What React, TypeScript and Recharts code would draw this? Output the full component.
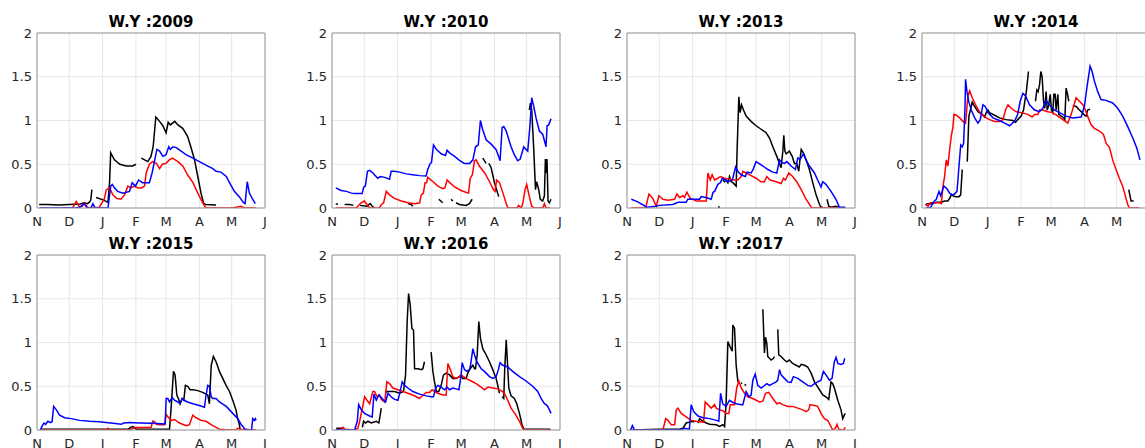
import React from "react";
import {
  CartesianGrid,
  Line,
  LineChart,
  ReferenceLine,
  XAxis,
  YAxis,
} from "recharts";

type Pt = [number, number | null];

// x = days since 1 Nov, y = value; null marks a gap in the record
const monthTicks = [0, 30, 61, 92, 120, 151, 181, 212];
const monthLabels = ["N", "D", "J", "F", "M", "A", "M", "J"];
const yTicks = [0, 0.5, 1, 1.5, 2];

const black2009: Pt[] = [[2,0.04],[10,0.04],[20,0.035],[30,0.04],[40,0.045],[44,0.06],[47,0.05],[49,0.07],[50,0.09],[51,0.21],[52,null],[55,0.12],[62,0.09],[66,0.065],[67.5,0.3],[68.5,0.63],[72,0.55],[77,0.5],[83,0.48],[89,0.48],[92,0.5],[94,null],[97,0.57],[103,0.53],[106,0.59],[108,0.7],[110.5,1.04],[114,0.99],[117,0.94],[120,0.86],[122,0.98],[124,0.95],[128,0.99],[131,0.95],[135.5,0.91],[140,0.82],[143,0.7],[146.5,0.55],[149.5,0.36],[152.5,0.17],[155,0.05],[157,0.04],[166.5,0.035]];
const red2009: Pt[] = [[25,0],[33,0],[36.5,0.075],[39.5,0.01],[42,0.02],[44,0.06],[47,0.01],[50,0],[58,0.01],[62.5,0.1],[64.5,0.21],[67.5,0.23],[70.5,0.15],[74,0.11],[78,0.1],[81.5,0.15],[84.5,0.25],[87.5,0.23],[90.5,0.25],[94,0.23],[97,0.23],[100,0.25],[101.5,0.4],[104.5,0.5],[107.5,0.53],[111,0.51],[114,0.45],[116.5,0.5],[120,0.51],[123,0.55],[126,0.57],[131,0.53],[135.5,0.48],[140,0.38],[145,0.29],[149.5,0.17],[154,0.06],[157,0],[182,0],[189.5,0.02],[193,0],[203.5,0]];
const blue2009: Pt[] = [[2.5,0],[36,0],[40,0.01],[44,0.05],[46.5,0],[50,0],[52,0.05],[54,0],[66,0],[68.5,0.25],[70,0.27],[72,0.23],[75,0.19],[80,0.17],[86,0.19],[88.5,0.29],[91.5,0.25],[94.5,0.32],[98,0.29],[101.5,0.29],[104.5,0.29],[107,0.4],[109.5,0.55],[111.5,0.67],[114,0.65],[117,0.59],[120,0.61],[122.5,0.7],[124,0.67],[126.5,0.7],[129.5,0.69],[134,0.65],[138.5,0.61],[145,0.57],[151,0.53],[157,0.49],[163.5,0.45],[166.5,0.42],[171,0.41],[176,0.36],[179,0.29],[183.5,0.19],[188,0.13],[192,0.06],[193.5,0.05],[195.5,0.3],[197.5,0.17],[200.5,0.1],[203,0.05]];

const black2010: Pt[] = [[3.5,0.05],[5.5,0.04],[6.5,null],[11.8,0.04],[16.4,0.04],[20,0.03],[22,null],[26,0.03],[32.5,0.02],[35.5,0.05],[37.5,0.02],[39,0],[40,null],[53.5,0.04],[56,null],[60,0.05],[62,null],[70.5,0.05],[73.5,0.04],[75.2,0.02],[77,null],[99.3,0.1],[103,0.06],[105,null],[110.8,0.1],[112.3,0.08],[113.5,null],[115.4,0.06],[118.5,0.04],[124.7,0.03],[127.8,0.05],[130.3,0.1],[132,null],[140.2,0.57],[143.3,0.51],[144.5,null],[145.8,0.51],[148,0.46],[151,0.29],[155,0.13],[157,null],[183.5,1.12],[184.5,1.2],[185.7,1.12],[187.6,0.67],[189.2,0.21],[190.3,0.3],[192.2,0.21],[193.7,0.1],[195.9,0.08],[197.5,0.14],[198.4,0.56],[199,0.4],[199.9,0.56],[200.9,0.08],[202.1,0.06],[203.7,0.1]];
const red2010: Pt[] = [[3.5,0],[22.5,0],[27,0.06],[30,0.08],[32.5,0.04],[35,0],[44,0],[46,0.04],[48,0.06],[50.5,0.19],[53.5,0.15],[58,0.11],[64.5,0.08],[70.5,0.06],[77,0.05],[81.5,0.06],[83,0.15],[85,0.17],[86.5,0.29],[88,0.29],[89,0.35],[94,0.3],[98.5,0.25],[103,0.22],[105,0.23],[107,0.32],[109.5,0.29],[114,0.24],[120,0.2],[124.5,0.18],[127,0.17],[128.5,0.34],[130.5,0.38],[132.5,0.54],[134,0.55],[137,0.48],[142,0.4],[146.5,0.3],[150,0.21],[151.7,0.19],[153,0.32],[155.7,0.29],[159,0.17],[162,0.05],[163.5,0],[172,0],[173.5,0.03],[176,0],[177.5,0.06],[179.5,0.21],[181,0.27],[183.5,0.13],[185.7,0.02],[188,0],[196,0],[197.5,0.05],[199,0],[202.7,0]];
const blue2010: Pt[] = [[3.5,0.23],[8.5,0.2],[13.5,0.19],[18,0.17],[21,0.165],[28,0.165],[29.5,0.24],[31,0.25],[33,0.42],[35,0.43],[38,0.4],[42.5,0.34],[45,0.36],[49,0.35],[53.5,0.33],[55,0.42],[58,0.42],[63,0.41],[69,0.39],[75,0.38],[81.5,0.37],[87.5,0.365],[89,0.44],[91.3,0.51],[92.5,0.52],[94.4,0.72],[97,0.67],[101.5,0.62],[105.5,0.6],[107,0.66],[109.3,0.63],[114,0.59],[118.5,0.545],[123,0.51],[128,0.51],[131,0.55],[133.5,0.7],[136,0.72],[138,1.0],[140,0.9],[143.3,0.78],[148,0.73],[152.5,0.67],[155,0.59],[156.3,0.54],[158.2,0.92],[159.7,0.93],[162,0.88],[166.5,0.7],[169.5,0.61],[172.7,0.54],[175,0.56],[178.3,0.7],[180.4,0.67],[182,0.65],[184,0.93],[185.7,1.26],[187.6,1.16],[189.7,1.03],[192.8,0.88],[196,0.84],[199,0.7],[200,0.94],[201.5,0.95],[202.7,0.99],[203.7,1.02]];

const black2013: Pt[] = [[85,0.02],[86,0],[87,null],[89,0.32],[90.7,0.3],[92.2,0.32],[93.8,0.29],[95.3,0.36],[96.9,0.3],[98.4,0.29],[100,0.27],[101.5,0.25],[102.4,0.67],[104,1.27],[105.2,1.09],[106.5,1.18],[108.3,1.12],[110.8,1.05],[115.4,0.99],[120,0.94],[124.7,0.9],[129.4,0.86],[132.5,0.8],[135.6,0.7],[139.3,0.59],[141.8,0.51],[143.3,0.46],[144.9,0.65],[145.8,0.83],[146.8,0.65],[148,0.62],[151,0.65],[153.6,0.59],[155.7,0.51],[157.8,0.51],[159.7,0.42],[161,0.57],[162,0.67],[164,0.63],[166.5,0.55],[169.6,0.44],[172.7,0.29],[175.8,0.15],[179,0.04],[180.4,0.01],[182,0.01],[183.5,null],[186,0.1],[187.6,0.02],[190,0.01],[194,0.02],[199,0]];
const red2013: Pt[] = [[4,0],[17.3,0],[20.4,0.16],[24,0.11],[27.2,0.02],[29.7,0.14],[33.4,0.1],[38,0.09],[44.3,0.1],[46.4,0.16],[49,0.12],[52,0.14],[53.5,0.12],[55.7,0.18],[58.8,0.11],[61.3,0.1],[64.4,0.08],[73.7,0.08],[75.2,0.4],[77.4,0.32],[79.2,0.38],[81.4,0.32],[84.5,0.34],[86.7,0.36],[90.7,0.34],[95.3,0.33],[100,0.32],[103,0.32],[106.2,0.36],[107.7,0.42],[110.8,0.4],[115.4,0.37],[120,0.34],[124.7,0.3],[127.8,0.3],[130,0.36],[133,0.32],[138.7,0.3],[143.3,0.28],[145.5,0.34],[147.3,0.32],[150.4,0.4],[154,0.36],[157.8,0.3],[162,0.21],[166.5,0.1],[171.8,0],[185,0],[197,0]];
const blue2013: Pt[] = [[4,0.1],[10,0.07],[18.5,0.01],[27,0.02],[30,0.03],[42.5,0.04],[47.5,0.065],[55,0.065],[56.5,0.1],[67.5,0.1],[69,0.13],[73.5,0.12],[78.3,0.1],[80,0.18],[81.5,0.19],[84.5,0.27],[87,0.29],[88.5,0.34],[91.5,0.32],[94,0.3],[98,0.32],[101,0.47],[103,0.42],[106,0.38],[110,0.36],[111.7,0.41],[115.4,0.4],[117.6,0.45],[120,0.53],[122.6,0.51],[126.3,0.48],[131,0.44],[135.6,0.41],[139.3,0.4],[141.8,0.55],[144,0.52],[146.5,0.51],[148.6,0.53],[152.6,0.48],[156.6,0.44],[158.8,0.57],[161,0.56],[162.8,0.59],[164,0.62],[166.5,0.55],[169.6,0.48],[174.3,0.4],[177.3,0.32],[180.4,0.24],[182,0.3],[185,0.27],[189.7,0.19],[194.3,0.1],[197.4,0.01],[203,0.01]];

const black2014: Pt[] = [[3.4,0.03],[4.6,0.05],[10,0.05],[13.3,0.065],[18,0.065],[21,0.08],[24,0.08],[25.7,0.11],[27.2,0.15],[28.8,0.14],[31.3,0.13],[34.4,0.13],[36,0.15],[37.4,0.44],[39,null],[42.1,0.53],[43.6,1.05],[45,1.12],[46.7,1.21],[49,1.16],[52,1.1],[56,1.07],[58.2,1.04],[59.7,1.09],[61.3,1.12],[62.8,1.09],[67.5,1.06],[72,1.03],[78.3,1.01],[84.5,1.0],[87,0.98],[89,1.01],[92.2,1.05],[94.4,1.12],[97,1.33],[99,1.56],[100,null],[105.5,1.22],[106.8,1.35],[108,1.33],[109.3,1.41],[110.5,1.56],[111.7,1.5],[113,1.22],[114.2,1.14],[115.4,1.33],[116.4,1.12],[117.6,1.16],[119.2,1.3],[120.4,1.12],[121.6,1.09],[122.6,1.3],[123.8,1.3],[124.7,1.12],[126.3,1.3],[127.2,1.07],[129.4,1.05],[131,1.04],[132.8,1.01],[134,1.37],[135.3,1.3],[136.5,1.22],[138,null],[140.2,1.17],[143.3,1.16],[146.4,1.12],[149,1.09],[151,1.06],[152.6,1.05],[154,1.12],[156.3,1.13],[158,null],[192.2,0.21],[194.4,0.08],[196.8,0.08]];
const red2014: Pt[] = [[3.4,0.04],[5.6,0.02],[7.7,0.06],[16.4,0.06],[18,0.05],[19.5,0.25],[21,0.36],[22.6,0.55],[24.1,0.48],[25.7,0.67],[27.2,0.82],[28.8,0.93],[29.7,1.07],[32,1.06],[35,1.03],[38,0.99],[40.5,0.97],[42.7,1.28],[44.3,1.34],[46.7,1.26],[49.8,1.18],[53.5,1.1],[58.2,1.04],[62.8,1.01],[67.5,0.99],[72,0.99],[75.2,1.01],[77.7,1.12],[80,1.18],[83,1.14],[87.6,1.1],[92.2,1.09],[98.4,1.07],[102.4,1.04],[104.6,1.07],[107.7,1.07],[109.3,1.12],[112.3,1.12],[117,1.1],[121.6,1.09],[126.3,1.05],[131,1.01],[135.6,0.97],[138.7,1.07],[143.3,1.26],[146.4,1.22],[149.5,1.18],[152,1.12],[154,1.05],[157.2,0.95],[160.3,0.91],[165,0.88],[168.7,0.84],[171.2,0.74],[174.3,0.69],[177.3,0.55],[180.4,0.44],[183.5,0.34],[186.6,0.25],[189.7,0.11],[191.3,0.04],[192.8,0],[202,0]];
const blue2014: Pt[] = [[3.4,0],[7,0],[8.7,0.02],[10,0.06],[13.3,0.1],[15.8,0.19],[17.3,0.14],[20.4,0.25],[23.2,0.22],[25.7,0.17],[28.2,0.15],[30.3,0.16],[32.5,0.19],[33.4,0.32],[34.4,0.48],[36,0.72],[37.4,0.7],[38.7,0.74],[40,1.16],[40.5,1.47],[41.8,1.33],[43.6,1.21],[45.8,1.12],[49,1.03],[52,0.97],[54.2,1.01],[56.6,1.18],[58.8,1.16],[61.3,1.09],[66,1.03],[72,1.0],[76.8,0.97],[81.4,0.94],[86,0.99],[89,1.07],[91.3,1.22],[93.8,1.31],[96.3,1.28],[100,1.18],[104.6,1.12],[109.3,1.1],[112.3,1.14],[115.4,1.23],[118.5,1.18],[123,1.12],[127.8,1.09],[134,1.05],[140,1.03],[148,1.04],[151,1.16],[153.5,1.39],[156.3,1.62],[158.2,1.56],[160.3,1.45],[163.4,1.33],[166.5,1.24],[171,1.23],[177.3,1.2],[182,1.14],[186.6,1.05],[191.3,0.93],[196,0.8],[199.6,0.69],[202.7,0.55]];

const black2015: Pt[] = [[3,0.01],[20,0.01],[40,0.01],[60,0.01],[85,0.01],[87,0.03],[89,0.04],[90.7,0.03],[92.2,0.01],[110,0.01],[123.2,0.01],[124.7,0.25],[126.9,0.67],[128.4,0.63],[130,0.4],[131.5,0.36],[133,0.3],[135,0.36],[136.5,0.34],[138,0.51],[140.2,0.5],[142.4,0.46],[145,0.46],[149.5,0.45],[154,0.43],[157.2,0.41],[158.8,0.4],[160.3,0.3],[162,0.74],[164,0.84],[166.5,0.78],[169.6,0.67],[172.7,0.59],[175.8,0.51],[179,0.44],[182,0.34],[185,0.23],[186.6,0.13],[188.2,0.06],[188.8,0]];
const red2015: Pt[] = [[3,0],[64,0],[66,0.02],[67.5,0],[86,0],[89,0.02],[92,0.03],[106,0.03],[107.7,0.1],[109.3,0.095],[111,0.065],[114,0.06],[118.5,0.06],[120.1,0.18],[121.6,0.15],[124.7,0.11],[127.8,0.12],[132.5,0.08],[138.7,0.05],[141.8,0.06],[144.8,0.17],[148,0.14],[152.6,0.11],[157.2,0.1],[163.4,0.05],[169.6,0.01],[176,0],[185,0],[186.6,0.02],[189.7,0.01],[203.7,0]];
const blue2015: Pt[] = [[3,0],[5,0.05],[6.5,0.08],[8,0.065],[10.2,0.1],[12.4,0.085],[14,0.095],[15.5,0.27],[18,0.23],[21,0.17],[25.7,0.14],[32,0.13],[39.6,0.11],[49,0.1],[58,0.095],[70.6,0.076],[78.3,0.065],[80.5,0.08],[86,0.085],[95.3,0.08],[107.7,0.076],[119.2,0.07],[120.1,0.36],[121.6,0.36],[123.2,0.32],[125.7,0.37],[127.8,0.34],[131,0.32],[133,0.3],[135,0.36],[137,0.34],[140,0.32],[145,0.3],[151,0.28],[155.7,0.26],[157.2,0.4],[158.8,0.51],[160.3,0.5],[162,0.38],[163.4,0.36],[166.5,0.36],[169.6,0.32],[176,0.27],[182,0.19],[186.8,0.13],[190,0.06],[193.5,0.01],[197.5,0],[199.5,0],[200.6,0.13],[202,0.11],[203,0.13],[203.7,0.11]];

const black2016: Pt[] = [[4,0.02],[10,0.02],[12,null],[28.2,0.03],[29.4,0.1],[31.3,0.08],[33.4,0.1],[36.5,0.08],[41.2,0.1],[43.6,0.08],[45.8,0.25],[47,null],[49.8,0.42],[50.4,0.44],[58.2,0.44],[62.8,0.42],[66.5,0.44],[68.4,0.63],[69.9,1.24],[71.2,1.56],[72.7,1.43],[74.3,1.16],[75.8,1.14],[76.8,0.7],[80,0.7],[83,0.69],[84.5,0.7],[86,0.78],[88,null],[92.2,0.89],[93.8,0.67],[95.3,0.55],[97,0.44],[99.3,0.44],[101.5,0.51],[103.7,0.63],[106.2,0.65],[109.3,0.63],[112.3,0.59],[115.4,0.59],[120,0.62],[121.6,0.59],[124.7,0.59],[126.3,0.65],[128.4,0.7],[131,0.74],[132.5,0.7],[133.4,0.7],[135,0.86],[136.5,1.24],[138,1.05],[140.2,0.93],[143.3,0.86],[146.4,0.78],[149.5,0.69],[152.6,0.59],[154.7,0.48],[155.7,0.42],[157,null],[158.2,0.38],[159.7,0.36],[160.6,0.7],[162,1.03],[163.1,0.78],[164.4,0.48],[166.5,0.39],[169.6,0.36],[171.8,0.3],[174.3,0.19],[176.7,0.06],[178.3,0.01],[203,0.01]];
const red2016: Pt[] = [[3.4,0],[8.7,0.01],[10.2,0.03],[11.8,0.01],[21,0],[24,0.02],[25.7,0.1],[28.2,0.25],[30.3,0.38],[32.5,0.34],[35,0.3],[38,0.44],[39.6,0.44],[41.8,0.38],[44.3,0.4],[45.8,0.35],[49,0.32],[51,0.55],[53.5,0.53],[56.6,0.48],[61.3,0.46],[66,0.44],[70.6,0.42],[75.2,0.4],[81.4,0.36],[83,0.38],[87.6,0.43],[90.7,0.43],[93.2,0.46],[95.3,0.44],[98.4,0.42],[103,0.4],[106.2,0.4],[107.7,0.76],[110,0.69],[112.3,0.61],[115.4,0.59],[118.5,0.61],[120,0.63],[124.7,0.59],[129.4,0.56],[134,0.53],[138.7,0.49],[141.8,0.46],[145,0.49],[149.5,0.48],[154,0.47],[157.2,0.45],[160.3,0.42],[163.4,0.34],[166.5,0.25],[171,0.17],[174.3,0.1],[177.3,0.02],[179,0],[202,0]];
const blue2016: Pt[] = [[3.4,0],[21,0],[23.5,0.1],[24.8,0.29],[27.2,0.23],[30.3,0.19],[35,0.16],[37.4,0.15],[39,0.41],[41.2,0.34],[43.6,0.4],[45.8,0.37],[48,0.34],[49.8,0.32],[52,0.42],[55,0.38],[58.2,0.35],[61.3,0.34],[62.8,0.41],[65.3,0.55],[67.5,0.51],[70.6,0.48],[75.2,0.44],[81.4,0.41],[87.6,0.39],[92.2,0.38],[94.4,0.38],[96.3,0.48],[98.4,0.51],[101.5,0.49],[104.6,0.46],[107,0.49],[109.3,0.46],[112.3,0.48],[115.4,0.47],[118,0.46],[120,0.62],[121,0.77],[123.2,0.69],[125.3,0.67],[127.8,0.69],[128.8,0.74],[131,0.93],[132.5,0.86],[134.6,0.78],[138.7,0.7],[141.8,0.67],[146.4,0.61],[149.5,0.59],[152.6,0.61],[154.7,0.69],[156.3,0.77],[158.8,0.74],[163.4,0.72],[168,0.67],[174.3,0.61],[180.4,0.56],[186.6,0.5],[191.3,0.44],[194.4,0.36],[197.5,0.3],[199,0.29],[200.6,0.27],[203.7,0.19]];

const black2017: Pt[] = [[3.4,0],[30,0.01],[49,0.01],[52,0.02],[55,0.08],[58.2,0.09],[61.3,0.1],[62.8,0.09],[64,null],[66,0.08],[67.5,0.13],[70.6,0.1],[73.7,0.08],[76.8,0.065],[83,0.06],[86,0.04],[89,0.06],[90.7,0.04],[92.2,0.32],[93.8,1.01],[95.9,0.95],[97.8,0.9],[98.4,1.2],[100,1.16],[101.5,0.74],[103.1,0.55],[104,null],[106,0.54],[107,0.53],[108,null],[109.3,0.52],[110.8,0.51],[111.5,null],[126.3,1.38],[127.8,0.88],[128.8,1.06],[130,0.99],[130.9,0.84],[134,0.8],[136.2,0.82],[137.1,0.84],[138.5,null],[140.2,1.15],[141.1,0.86],[143.3,0.84],[146.4,0.8],[148.6,0.78],[151,0.8],[154,0.76],[157.2,0.74],[160.3,0.72],[162,0.75],[165,0.74],[168,0.72],[171.2,0.65],[174.3,0.55],[179,0.46],[182,0.4],[185,0.38],[187.6,0.35],[189.7,0.55],[191.3,0.53],[192.8,0.48],[196,0.34],[199,0.23],[200.6,0.13],[202,0.17],[203,0.19]];
const red2017: Pt[] = [[3.4,0],[33.4,0],[36,0.13],[38,0.11],[41.2,0.06],[44.3,0.06],[45.8,0.23],[47.4,0.25],[50.4,0.19],[55,0.15],[59.7,0.11],[64.4,0.1],[71.2,0.09],[72.7,0.32],[75.2,0.29],[78.3,0.25],[81.4,0.29],[83,0.25],[86,0.23],[89,0.22],[92.2,0.19],[94.7,0.19],[96,0.29],[97.8,0.29],[100,0.29],[102,0.48],[104,0.56],[106.2,0.48],[109.3,0.42],[112.3,0.38],[117,0.36],[123.2,0.32],[126.3,0.33],[128.8,0.42],[131.8,0.43],[135.6,0.36],[139.3,0.3],[141.8,0.31],[144.8,0.29],[149.5,0.27],[154,0.27],[158.8,0.25],[163.4,0.23],[166.5,0.21],[169,0.23],[170.2,0.29],[174.3,0.28],[177.3,0.27],[180.4,0.19],[183.5,0.13],[186.6,0.11],[188.8,0.06],[191.3,0],[193.7,0.02],[195.3,0.065],[196.8,0.01],[199,0],[201.2,0],[203,0.03]];
const blue2017: Pt[] = [[3.4,0],[5,0.05],[7,0],[49,0],[53.5,0.02],[58,0.01],[59.7,0.29],[62,0.21],[66,0.16],[70.6,0.14],[77,0.13],[83,0.11],[85.4,0.1],[87,0.42],[89,0.3],[92.2,0.27],[95.3,0.34],[97.8,0.32],[101.5,0.3],[106.2,0.29],[107.7,0.29],[110.8,0.44],[113.3,0.38],[115.4,0.4],[117,0.57],[119.2,0.64],[121.6,0.51],[124.7,0.48],[127,0.5],[130,0.53],[132.5,0.51],[135.6,0.53],[138.7,0.55],[140.2,0.57],[141.8,0.69],[143.3,0.63],[146.4,0.59],[149.5,0.55],[152.6,0.545],[154.7,0.61],[158.8,0.59],[163.4,0.55],[168,0.51],[171.2,0.5],[174.3,0.53],[177.3,0.55],[180.4,0.57],[182.6,0.67],[185,0.63],[188.2,0.57],[190.7,0.59],[192.8,0.78],[194.4,0.83],[196,0.76],[199,0.75],[201.2,0.76],[202.4,0.82]];

const panels = [
  { year: 2009, col: 0, row: 0, black: black2009, red: red2009, blue: blue2009 },
  { year: 2010, col: 1, row: 0, black: black2010, red: red2010, blue: blue2010 },
  { year: 2013, col: 2, row: 0, black: black2013, red: red2013, blue: blue2013 },
  { year: 2014, col: 3, row: 0, black: black2014, red: red2014, blue: blue2014 },
  { year: 2015, col: 0, row: 1, black: black2015, red: red2015, blue: blue2015 },
  { year: 2016, col: 1, row: 1, black: black2016, red: red2016, blue: blue2016 },
  { year: 2017, col: 2, row: 1, black: black2017, red: red2017, blue: blue2017 },
];

const PLOT_W = 228;
const PLOT_H = 175;
const Y_W = 40;
const colLeft = [37, 332, 627, 922];
const rowTop = [33, 255];

const toPts = (a: Pt[]) => a.map(([d, v]) => ({ d, v }));
const tickStyle = { fill: "#262626", fontSize: 13, fontFamily: "DejaVu Sans" };

function Panel({ p }: { p: (typeof panels)[number] }) {
  const left = colLeft[p.col];
  const top = rowTop[p.row];
  return (
    <>
      <div
        style={{
          position: "absolute",
          left,
          top: top - 20,
          width: PLOT_W,
          textAlign: "center",
          fontWeight: "bold",
          fontSize: 15,
          lineHeight: "18px",
          color: "#000",
        }}
      >
        W.Y :{p.year}
      </div>
      <div style={{ position: "absolute", left: left - Y_W, top: top - 10 }}>
        <LineChart
          width={Y_W + PLOT_W + 10}
          height={10 + PLOT_H + 30}
          margin={{ top: 10, right: 10, left: 0, bottom: 0 }}
        >
          <CartesianGrid stroke="#e6e6e6" strokeWidth={1} />
          <XAxis
            type="number"
            dataKey="d"
            domain={[0, 212]}
            ticks={monthTicks}
            tickFormatter={(v: number) => monthLabels[monthTicks.indexOf(v)]}
            interval={0}
            allowDataOverflow
            height={30}
            tickLine={false}
            tickSize={0}
            tickMargin={9}
            axisLine={{ stroke: "#999" }}
            tick={tickStyle}
          />
          <YAxis
            type="number"
            domain={[0, 2]}
            ticks={yTicks}
            interval={0}
            allowDataOverflow
            width={Y_W}
            tickLine={false}
            tickSize={0}
            tickMargin={5}
            axisLine={{ stroke: "#999" }}
            tick={tickStyle}
          />
          <ReferenceLine y={2} stroke="#999" />
          <ReferenceLine x={212} stroke="#999" />
          <Line data={toPts(p.black)} dataKey="v" stroke="#000000" strokeWidth={1.5} dot={false} isAnimationActive={false} />
          <Line data={toPts(p.red)} dataKey="v" stroke="#ff0000" strokeWidth={1.5} dot={false} isAnimationActive={false} />
          <Line data={toPts(p.blue)} dataKey="v" stroke="#0000ff" strokeWidth={1.5} dot={false} isAnimationActive={false} />
        </LineChart>
      </div>
    </>
  );
}

export default function App() {
  return (
    <div
      style={{
        position: "absolute",
        left: 0,
        top: 0,
        width: 1145,
        height: 448,
        overflow: "hidden",
        background: "#fff",
        fontFamily: "DejaVu Sans",
      }}
    >
      {panels.map((p) => (
        <Panel key={p.year} p={p} />
      ))}
    </div>
  );
}
